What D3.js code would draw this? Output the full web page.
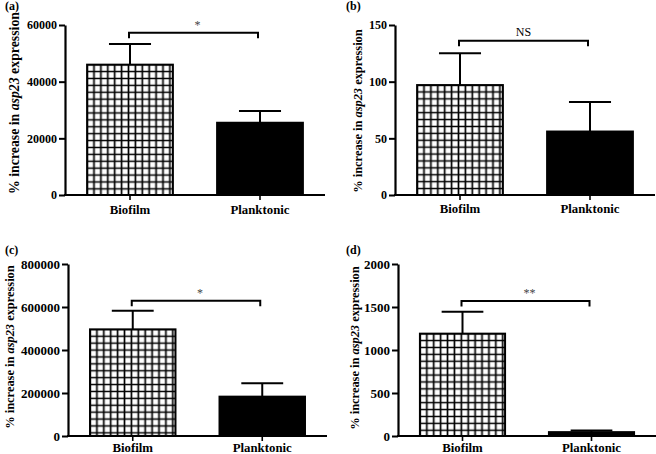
<!DOCTYPE html>
<html>
<head>
<meta charset="utf-8">
<script src="https://cdn.jsdelivr.net/npm/d3@7"></script>
<style>
  html, body { margin: 0; padding: 0; background: #fff; }
  svg { display: block; }
  svg text { font-family: "Liberation Serif", "Times New Roman", Times, serif !important; }
</style>
</head>
<body>
<script>
// ---------------- data ----------------
const categories = ["Biofilm", "Planktonic"];
const panelLabels = ["(a)", "(b)", "(c)", "(d)"];

const meansA = [46000, 25500];
const errsA  = [7300, 4150];
const meansB = [97, 56];
const errsB  = [28, 26];
const meansC = [496000, 183000];
const errsC  = [87000, 62000];
const meansD = [1190, 45];
const errsD  = [255, 20];

const yTicksA = [0, 20000, 40000, 60000];
const yTicksB = [0, 50, 100, 150];
const yTicksC = [0, 200000, 400000, 600000, 800000];
const yTicksD = [0, 500, 1000, 1500, 2000];

const sigLabels = ["*", "NS", "*", "**"];
const bracketLevels = [57300, 136, 629000, 1570];

const yTitle = ["% increase in ", "asp23", " expression"];

// ---------------- layout (positions/styles only) ----------------
const layout = [
  { x0: 65,  x1: 325, yTop: 25,  yBot: 195, titleX: 14,  titleY: 103, titleSize: 13.8, tickSize: 12, catY: 214, plX: 5,   plY: 10 },
  { x0: 395, x1: 655, yTop: 25,  yBot: 195, titleX: 358, titleY: 111, titleSize: 12.4, tickSize: 12, catY: 213, plX: 346, plY: 10 },
  { x0: 68,  x1: 327, yTop: 264, yBot: 436, titleX: 10,  titleY: 347, titleSize: 12.4, tickSize: 13, catY: 452, plX: 5,   plY: 254 },
  { x0: 398, x1: 656, yTop: 264, yBot: 436, titleX: 355, titleY: 348, titleSize: 12.4, tickSize: 13, catY: 452, plX: 346, plY: 254 }
];

const panels = [
  { means: meansA, errs: errsA, ticks: yTicksA },
  { means: meansB, errs: errsB, ticks: yTicksB },
  { means: meansC, errs: errsC, ticks: yTicksC },
  { means: meansD, errs: errsD, ticks: yTicksD }
];

const FONT = '"Liberation Serif", "Times New Roman", Times, serif';

const svg = d3.select("body").append("svg")
  .attr("width", 656).attr("height", 454);
const defs = svg.append("defs");

const cell = 6.9;

panels.forEach((p, i) => {
  const L = layout[i];
  const g = svg.append("g");

  const y = d3.scaleLinear()
    .domain([0, d3.max(p.ticks)])
    .range([L.yBot, L.yTop]);
  const x = d3.scaleBand()
    .domain(categories)
    .range([L.x0, L.x1])
    .paddingInner(0.34)
    .paddingOuter(0.17);

  // bars
  categories.forEach((c, j) => {
    const bx = x(c), by = y(p.means[j]), bw = x.bandwidth(), bh = y(0) - y(p.means[j]);
    let fill = "#000";
    if (j === 0) {
      const pid = "grid" + i;
      const h = cell / 2;
      const pat = defs.append("pattern")
        .attr("id", pid)
        .attr("patternUnits", "userSpaceOnUse")
        .attr("x", bx - h).attr("y", by - h)
        .attr("width", cell).attr("height", cell);
      pat.append("rect").attr("width", cell).attr("height", cell).attr("fill", "#fff");
      pat.append("path")
        .attr("d", `M0,${h}H${cell}M${h},0V${cell}`)
        .attr("stroke", "#000").attr("stroke-width", 1.7).attr("fill", "none");
      fill = `url(#${pid})`;
    }
    g.append("rect")
      .attr("x", bx).attr("y", by)
      .attr("width", bw).attr("height", bh)
      .attr("fill", fill)
      .attr("stroke", "#000").attr("stroke-width", 2);

    // error bar (upper only)
    const cx = bx + bw / 2;
    const capHalf = bw * 0.245;
    g.append("line")
      .attr("x1", cx).attr("x2", cx)
      .attr("y1", y(p.means[j])).attr("y2", y(p.means[j] + p.errs[j]))
      .attr("stroke", "#000").attr("stroke-width", 2);
    g.append("line")
      .attr("x1", cx - capHalf).attr("x2", cx + capHalf)
      .attr("y1", y(p.means[j] + p.errs[j])).attr("y2", y(p.means[j] + p.errs[j]))
      .attr("stroke", "#000").attr("stroke-width", 2);
  });

  // y axis
  const yAxis = d3.axisLeft(y).tickValues(p.ticks).tickFormat(d3.format("d"))
    .tickSize(6).tickSizeOuter(0).tickPadding(2);
  const ya = g.append("g").attr("transform", `translate(${L.x0},0)`).call(yAxis)
    .attr("font-family", FONT);
  ya.select(".domain").attr("stroke-width", 2.2);
  ya.selectAll(".tick line").attr("stroke-width", 2);
  ya.selectAll(".tick text")
    .style("font-family", FONT)
    .attr("font-weight", "bold")
    .attr("font-size", L.tickSize)
    .attr("fill", "#000");

  // x axis
  const xAxis = d3.axisBottom(x).tickSize(5).tickSizeOuter(0).tickFormat("");
  const xa = g.append("g").attr("transform", `translate(0,${L.yBot})`).call(xAxis);
  xa.select(".domain").attr("stroke-width", 2.2)
    .attr("d", `M${L.x0 - 1},0H${L.x1}`);
  xa.selectAll(".tick line").attr("stroke-width", 1.6);

  // category labels
  g.selectAll("text.cat").data(categories).join("text")
    .attr("class", "cat")
    .attr("x", d => x(d) + x.bandwidth() / 2)
    .attr("y", L.catY)
    .attr("text-anchor", "middle")
    .style("font-family", FONT)
    .attr("font-weight", "bold")
    .attr("font-size", 12.8)
    .text(d => d);

  // y title
  const t = g.append("text")
    .attr("transform", `translate(${L.titleX},${L.titleY}) rotate(-90)`)
    .attr("text-anchor", "middle")
    .attr("dominant-baseline", "central")
    .style("font-family", FONT)
    .attr("font-weight", "bold")
    .attr("font-size", L.titleSize);
  t.append("tspan").text(yTitle[0]);
  t.append("tspan").attr("font-style", "italic").text(yTitle[1]);
  t.append("tspan").text(yTitle[2]);

  // panel label
  g.append("text")
    .attr("x", L.plX).attr("y", L.plY)
    .style("font-family", FONT)
    .attr("font-weight", "bold").attr("font-size", 12)
    .text(panelLabels[i]);

  // significance bracket
  const xl = x(categories[0]) + x.bandwidth() / 2 - 1;
  const xr = x(categories[1]) + x.bandwidth() / 2 - 2;
  const yb = y(bracketLevels[i]);
  g.append("path")
    .attr("d", `M${xl},${yb + 5.5}V${yb}H${xr}V${yb + 5.5}`)
    .attr("fill", "none").attr("stroke", "#000").attr("stroke-width", 2);
  const isStar = sigLabels[i].indexOf("*") >= 0;
  g.append("text")
    .attr("x", (xl + xr) / 2 + (isStar ? 4 : 0))
    .attr("y", isStar ? yb - 4 : yb - 4.5)
    .attr("text-anchor", "middle")
    .style("font-family", FONT)
    .attr("font-size", 12)
    .attr("fill", isStar ? "#444" : "#000")
    .text(sigLabels[i]);
});
</script>
</body>
</html>
